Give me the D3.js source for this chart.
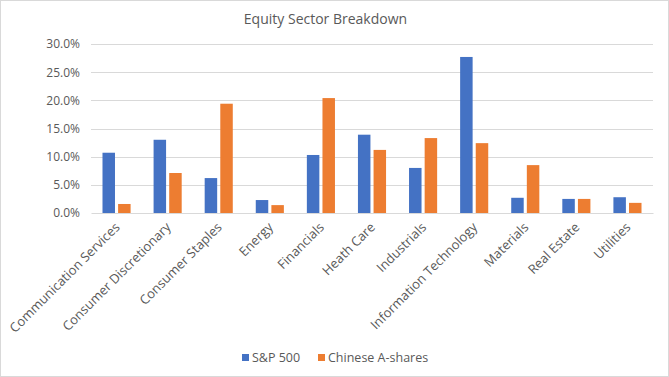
<!DOCTYPE html>
<html>
<head>
<meta charset="utf-8">
<script src="https://cdn.jsdelivr.net/npm/d3@7"></script>
<style>
    html, body { margin: 0; padding: 0; background: #fff; }
    svg text { font-family: "Open Sans", "Noto Sans", sans-serif; fill: #595959; }
</style>
</head>
<body>
<div id="chart"></div>
<script>
// Equity sector breakdown: S&P 500 vs Chinese A-shares (percent of index)
var sectors = [
    'Communication Services', 'Consumer Discretionary', 'Consumer Staples', 'Energy',
    'Financials', 'Heath Care', 'Industrials', 'Information Technology',
    'Materials', 'Real Estate', 'Utilities'
];
var sp500 = [10.7, 13.0, 6.2, 2.3, 10.3, 13.9, 8.0, 27.7, 2.7, 2.5, 2.8];
var ashares = [1.6, 7.1, 19.4, 1.4, 20.4, 11.2, 13.3, 12.4, 8.5, 2.5, 1.8];
var seriesNames = ['S&P 500', 'Chinese A-shares'];
var seriesColors = ['#4472c4', '#ed7d31'];
var yTicks = [0, 5, 10, 15, 20, 25, 30];

(function () {
    'use strict';

    var width = 669, height = 377;
    var margin = { top: 44, right: 16, bottom: 164, left: 91 };
    var innerW = width - margin.left - margin.right;
    var innerH = height - margin.top - margin.bottom;

    var svg = d3.select('#chart').append('svg')
        .attr('width', width)
        .attr('height', height);

    // chart frame
    svg.append('rect')
        .attr('x', 0.5).attr('y', 0.5)
        .attr('width', width - 1).attr('height', height - 1)
        .attr('fill', '#fff')
        .attr('stroke', '#d9d9d9');

    svg.append('text')
        .attr('x', width / 2 - 9)
        .attr('y', 24)
        .attr('text-anchor', 'middle')
        .style('font-size', '14px')
        .text('Equity Sector Breakdown');

    var g = svg.append('g').attr('transform', 'translate(' + margin.left + ',' + margin.top + ')');

    var x0 = d3.scaleBand().domain(sectors).range([0, innerW]).paddingInner(0.45).paddingOuter(0.225);
    var x1 = d3.scaleBand().domain(seriesNames).range([0, x0.bandwidth()]).paddingInner(0.2);
    var y = d3.scaleLinear().domain([0, 30]).range([innerH, 0]);

    // gridlines
    g.append('g')
        .selectAll('line').data(yTicks.slice(1)).join('line')
        .attr('x1', 0).attr('x2', innerW)
        .attr('y1', function (d) { return Math.round(y(d)) + 0.5; })
        .attr('y2', function (d) { return Math.round(y(d)) + 0.5; })
        .attr('stroke', '#d9d9d9');

    var yAxis = g.append('g')
        .call(d3.axisLeft(y).tickValues(yTicks).tickSize(0).tickPadding(11)
            .tickFormat(function (d) { return d.toFixed(1) + '%'; }));
    yAxis.select('.domain').remove();
    yAxis.selectAll('text').style('font-size', '12px').style('fill', '#595959');

    var series = [sp500, ashares];
    var groups = g.append('g').selectAll('g').data(sectors).join('g')
        .attr('transform', function (d) { return 'translate(' + x0(d) + ',0)'; });

    groups.selectAll('rect')
        .data(function (d, i) {
            return seriesNames.map(function (s, k) { return { key: s, value: series[k][i], k: k }; });
        })
        .join('rect')
        .attr('x', function (d) { return x1(d.key); })
        .attr('y', function (d) { return y(d.value); })
        .attr('width', x1.bandwidth())
        .attr('height', function (d) { return innerH - y(d.value); })
        .attr('fill', function (d) { return seriesColors[d.k]; });

    // x axis
    var xAxis = g.append('g')
        .attr('transform', 'translate(0,' + innerH + ')')
        .call(d3.axisBottom(x0).tickSize(0).tickPadding(0));
    xAxis.select('.domain').attr('stroke', '#d9d9d9');
    xAxis.selectAll('text')
        .style('font-size', '13px')
        .style('fill', '#595959')
        .attr('text-anchor', 'end')
        .attr('dy', null)
        .attr('y', 0)
        .attr('transform', 'translate(4,15) rotate(-45)');

    // legend
    var legend = svg.append('g').attr('transform', 'translate(242,352)');
    var legendX = [0, 76];
    seriesNames.forEach(function (name, i) {
        var item = legend.append('g').attr('transform', 'translate(' + legendX[i] + ',0)');
        item.append('rect').attr('width', 7).attr('height', 7).attr('y', 2).attr('fill', seriesColors[i]);
        item.append('text').attr('x', 10).attr('y', 9.5).style('font-size', '12.5px').text(name);
    });
})();
</script>
</body>
</html>
